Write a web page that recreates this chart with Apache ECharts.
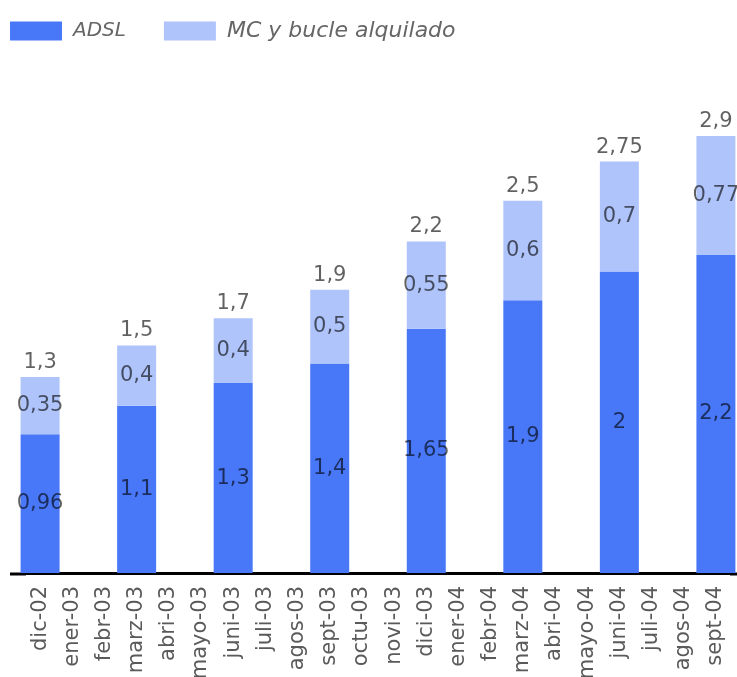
<!DOCTYPE html>
<html>
<head>
<meta charset="utf-8">
<script src="https://cdn.jsdelivr.net/npm/echarts@6/dist/echarts.min.js"></script>
<style>
html,body{margin:0;padding:0;background:#fff;}
#c{width:737px;height:677px;}
</style>
</head>
<body>
<div id="c"></div>
<script>
var categories = ['dic-02','ener-03','febr-03','marz-03','abri-03','mayo-03','juni-03','juli-03','agos-03','sept-03','octu-03','novi-03','dici-03','ener-04','febr-04','marz-04','abri-04','mayo-04','juni-04','juli-04','agos-04','sept-04'];
// bar heights as drawn
var adsl = [0.92,null,null,1.11,null,null,1.26,null,null,1.39,null,null,1.62,null,null,1.81,null,null,2.0,null,null,2.11];
var mc   = [0.38,null,null,0.40,null,null,0.43,null,null,0.49,null,null,0.58,null,null,0.66,null,null,0.73,null,null,0.79];
// printed labels
var adslLabels  = ['0,96','','','1,1','','','1,3','','','1,4','','','1,65','','','1,9','','','2','','','2,2'];
var mcLabels    = ['0,35','','','0,4','','','0,4','','','0,5','','','0,55','','','0,6','','','0,7','','','0,77'];
var totalLabels = ['1,3','','','1,5','','','1,7','','','1,9','','','2,2','','','2,5','','','2,75','','','2,9'];
var seriesNames = ['ADSL','MC y bucle alquilado'];

var FONT = 'DejaVu Sans';
var chart = echarts.init(document.getElementById('c'), null, {renderer:'canvas'});
chart.setOption({
  animation:false,
  backgroundColor:'#fff',
  legend:{
    left:10, top:20, padding:0, itemWidth:52, itemHeight:19, itemGap:38,
    icon:'rect',
    formatter:function(n){return (n===seriesNames[0]?'{a|':'{b|')+n+'}';},
    textStyle:{fontFamily:FONT, fontStyle:'italic', fontSize:20, color:'#666', padding:[0,0,0,6],
      rich:{a:{fontFamily:FONT, fontStyle:'italic', fontSize:20, color:'#666'},
            b:{fontFamily:FONT, fontStyle:'italic', fontSize:22, color:'#666'}}},
    data:seriesNames
  },
  grid:{left:24, right:5, top:45.5, bottom:104, containLabel:false, outerBoundsMode:'none'},
  xAxis:{
    type:'category', data:categories, offset:1,
    axisLine:{lineStyle:{color:'#000', width:3}},
    axisTick:{show:false},
    axisLabel:{rotate:90, interval:0, margin:12, fontFamily:FONT, fontSize:21, color:'#5a5a5a'}
  },
  yAxis:{type:'value', min:0, max:3.5, show:false, splitLine:{show:false}},
  graphic:[
    {type:'rect', shape:{x:10, y:572.5, width:16, height:3}, style:{fill:'#000'}},
    {type:'rect', shape:{x:730, y:572.5, width:7, height:3}, style:{fill:'#000'}}
  ],
  series:[
    {name:seriesNames[0], type:'bar', stack:'s', barWidth:39, clip:false, data:adsl,
     itemStyle:{color:'#4878f8'},
     label:{show:true, position:'inside', fontFamily:FONT, fontSize:21, color:'rgba(0,0,0,0.62)',
       formatter:function(p){return adslLabels[p.dataIndex];}}},
    {name:seriesNames[1], type:'bar', stack:'s', barWidth:39, clip:false, data:mc,
     itemStyle:{color:'#b0c4fc'},
     label:{show:true, position:'inside', fontFamily:FONT, fontSize:21, color:'rgba(0,0,0,0.62)',
       formatter:function(p){return mcLabels[p.dataIndex];}}},
    {name:'total', type:'bar', stack:'s', barWidth:39, clip:false,
     data:mc.map(function(v){return v==null?null:0;}),
     itemStyle:{color:'transparent'},
     label:{show:true, position:'top', distance:4, fontFamily:FONT, fontSize:21, color:'rgba(0,0,0,0.62)',
       formatter:function(p){return totalLabels[p.dataIndex];}}}
  ]
});
</script>
</body>
</html>
